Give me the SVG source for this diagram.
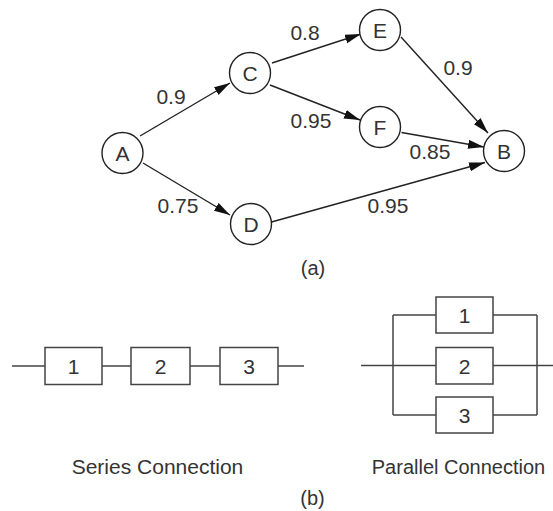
<svg xmlns="http://www.w3.org/2000/svg" width="553" height="511" viewBox="0 0 553 511">
<defs>
<style>
text{font-family:"Liberation Sans",Arial,sans-serif;font-size:21px;fill:#333;text-anchor:middle}
.node circle{fill:#fff;stroke:#222;stroke-width:1.4}
.edge{stroke:#222;stroke-width:1.4;fill:none;marker-end:url(#arr)}
.box{fill:#fff;stroke:#444;stroke-width:1.5}
.wire{stroke:#444;stroke-width:1.5;fill:none}
</style>
<marker id="arr" markerUnits="userSpaceOnUse" markerWidth="17" markerHeight="10" refX="16" refY="4.5" orient="auto">
<path d="M0,0 L16,4.5 L0,9 z" fill="#111"/>
</marker>
</defs>
<rect width="553" height="511" fill="#fff"/>
<g id="connectors">
<line class="edge" x1="140" y1="136" x2="230" y2="83"/>
<line class="edge" x1="143" y1="163" x2="230" y2="215"/>
<line class="edge" x1="272" y1="63" x2="361" y2="34"/>
<line class="edge" x1="270" y1="85" x2="360" y2="120"/>
<line class="edge" x1="401" y1="37" x2="488" y2="133"/>
<line class="edge" x1="401.5" y1="132.5" x2="484" y2="147"/>
<line class="edge" x1="271.5" y1="222" x2="485" y2="162.5"/>
</g>
<g id="edge-labels">
<text x="171" y="104">0.9</text>
<text x="305" y="40">0.8</text>
<text x="311" y="128">0.95</text>
<text x="178" y="213">0.75</text>
<text x="458" y="75">0.9</text>
<text x="430" y="159">0.85</text>
<text x="388" y="213">0.95</text>
</g>
<g id="A" class="node"><circle cx="122.5" cy="153" r="20.5"/><text x="122.5" y="160.5">A</text></g>
<g id="C" class="node"><circle cx="250" cy="73" r="20.5"/><text x="250" y="80.5">C</text></g>
<g id="D" class="node"><circle cx="251" cy="224" r="20.5"/><text x="251" y="231.5">D</text></g>
<g id="E" class="node"><circle cx="380" cy="30" r="20.5"/><text x="380" y="37.5">E</text></g>
<g id="F" class="node"><circle cx="380" cy="127" r="20.5"/><text x="380" y="134.5">F</text></g>
<g id="B" class="node"><circle cx="504" cy="151" r="20.5"/><text x="504" y="158.5">B</text></g>
<text x="313" y="275" style="font-size:20px">(a)</text>
<g id="series">
<path class="wire" d="M12,366 H45 M102,366 H131 M190,366 H220 M278,366 H304"/>
<g id="s1"><rect class="box" x="45" y="347.5" width="57" height="37"/><text x="73.5" y="374">1</text></g>
<g id="s2"><rect class="box" x="131" y="347.5" width="59" height="37"/><text x="160.5" y="374">2</text></g>
<g id="s3"><rect class="box" x="220" y="347.5" width="58" height="37"/><text x="249" y="374">3</text></g>
<text x="157.5" y="474">Series Connection</text>
</g>
<g id="parallel">
<path class="wire" d="M361,365.5 H436 M493,365.5 H553 M393,315 V415 M537,315 V415 M393,315 H436 M393,415 H436 M493,315 H537 M493,415 H537"/>
<g id="p1"><rect class="box" x="436" y="297" width="57" height="36"/><text x="464.5" y="323">1</text></g>
<g id="p2"><rect class="box" x="436" y="347.5" width="57" height="36.5"/><text x="464.5" y="373.5">2</text></g>
<g id="p3"><rect class="box" x="436" y="397" width="57" height="36"/><text x="464.5" y="423">3</text></g>
<text x="458.5" y="474" style="font-size:20px">Parallel Connection</text>
</g>
<text x="312.5" y="505" style="font-size:20px">(b)</text>
</svg>
